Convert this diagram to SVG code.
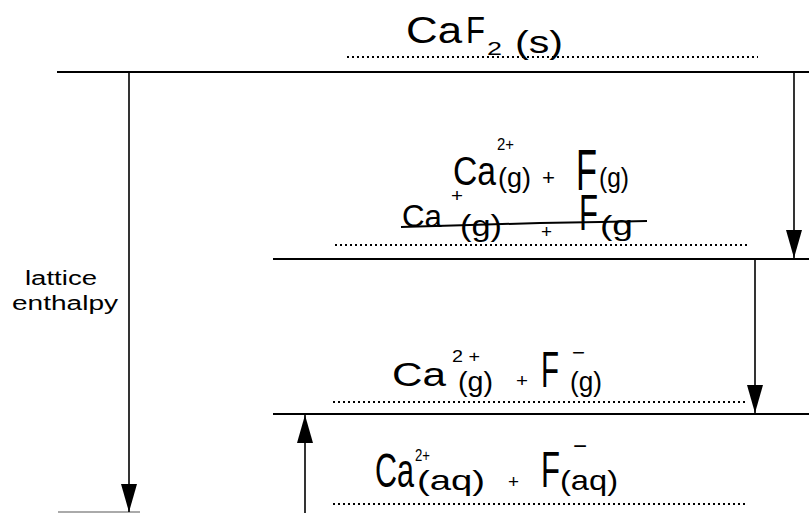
<svg xmlns="http://www.w3.org/2000/svg" width="809" height="513" viewBox="0 0 809 513">
<style>
.lvl{stroke:#000;stroke-width:2;fill:none}
.dot{stroke:#000;stroke-width:2;stroke-dasharray:2 3;fill:none}
.arr{stroke:#000;stroke-width:1.6;fill:none;marker-end:url(#ah)}
text.hw{font-family:"Liberation Sans","DejaVu Sans",sans-serif;fill:#000}
.lab{font-family:"Liberation Sans",Arial,sans-serif;font-size:20px;fill:#000}
</style>
<defs>
<marker id="ah" viewBox="0 0 28 16" refX="28" refY="8" markerWidth="28" markerHeight="16" markerUnits="userSpaceOnUse" orient="auto">
<path d="M0,0 L28,8 L0,16 z" fill="#000"/>
</marker>
</defs>
<rect width="809" height="513" fill="#fff"/>

<g id="level-caf2">
<line class="lvl" x1="57" y1="72" x2="809" y2="72"/>
<line class="dot" x1="347" y1="57" x2="758" y2="57"/>
<text class="hw" x="406" y="43" font-size="36" textLength="56" lengthAdjust="spacingAndGlyphs">Ca</text>
<text class="hw" x="466" y="43" font-size="36" textLength="19" lengthAdjust="spacingAndGlyphs">F</text>
<text class="hw" x="487" y="55" font-size="18" textLength="15" lengthAdjust="spacingAndGlyphs">2</text>
<text class="hw" x="515" y="53" font-size="32" textLength="48" lengthAdjust="spacingAndGlyphs">(s)</text>
</g>

<g id="level-gas-atoms">
<line class="lvl" x1="273" y1="259" x2="809" y2="259"/>
<line class="dot" x1="335" y1="245" x2="747" y2="245"/>
<text class="hw" x="453" y="185" font-size="40" textLength="43" lengthAdjust="spacingAndGlyphs">Ca</text>
<text class="hw" x="497" y="150" font-size="16" textLength="17" lengthAdjust="spacingAndGlyphs">2+</text>
<text class="hw" x="498" y="187" font-size="28" textLength="33" lengthAdjust="spacingAndGlyphs">(g)</text>
<text class="hw" x="542" y="185" font-size="22" textLength="13" lengthAdjust="spacingAndGlyphs">+</text>
<text class="hw" x="576" y="190" font-size="58" textLength="21" lengthAdjust="spacingAndGlyphs">F</text>
<text class="hw" x="599" y="187" font-size="28" textLength="30" lengthAdjust="spacingAndGlyphs">(g)</text>

<text class="hw" x="402" y="227" font-size="31" textLength="40" lengthAdjust="spacingAndGlyphs">Ca</text>
<text class="hw" x="451" y="202" font-size="18" textLength="12" lengthAdjust="spacingAndGlyphs">+</text>
<text class="hw" x="460" y="236" font-size="30" textLength="42" lengthAdjust="spacingAndGlyphs">(g)</text>
<text class="hw" x="541" y="238" font-size="18" textLength="11" lengthAdjust="spacingAndGlyphs">+</text>
<text class="hw" x="579" y="230" font-size="50" textLength="19" lengthAdjust="spacingAndGlyphs">F</text>
<text class="hw" x="600" y="235" font-size="28" textLength="33" lengthAdjust="spacingAndGlyphs">(g</text>
<polyline points="401,227 470,225 540,223 600,222 647,221" stroke="#000" stroke-width="2" fill="none"/>
</g>

<g id="level-gas-ions">
<line class="lvl" x1="273" y1="414" x2="809" y2="414"/>
<line class="dot" x1="333" y1="402" x2="745" y2="402"/>
<text class="hw" x="392" y="386" font-size="34" textLength="54" lengthAdjust="spacingAndGlyphs">Ca</text>
<text class="hw" x="452" y="362" font-size="17" textLength="28" lengthAdjust="spacingAndGlyphs">2 +</text>
<text class="hw" x="458" y="391" font-size="28" textLength="35" lengthAdjust="spacingAndGlyphs">(g)</text>
<text class="hw" x="516" y="387" font-size="18" textLength="12" lengthAdjust="spacingAndGlyphs">+</text>
<text class="hw" x="541" y="387" font-size="50" textLength="18" lengthAdjust="spacingAndGlyphs">F</text>
<text class="hw" x="572" y="360" font-size="22" textLength="13" lengthAdjust="spacingAndGlyphs">−</text>
<text class="hw" x="570" y="391" font-size="28" textLength="32" lengthAdjust="spacingAndGlyphs">(g)</text>
</g>

<g id="level-aqueous">
<line class="dot" x1="333" y1="504" x2="745" y2="504"/>
<text class="hw" x="375" y="487" font-size="48" textLength="39" lengthAdjust="spacingAndGlyphs">Ca</text>
<text class="hw" x="415" y="461" font-size="17" textLength="15" lengthAdjust="spacingAndGlyphs">2+</text>
<text class="hw" x="417" y="490" font-size="28" textLength="68" lengthAdjust="spacingAndGlyphs">(aq)</text>
<text class="hw" x="508" y="488" font-size="18" textLength="11" lengthAdjust="spacingAndGlyphs">+</text>
<text class="hw" x="541" y="487" font-size="50" textLength="19" lengthAdjust="spacingAndGlyphs">F</text>
<text class="hw" x="573" y="454" font-size="24" textLength="14" lengthAdjust="spacingAndGlyphs">−</text>
<text class="hw" x="560" y="490" font-size="28" textLength="58" lengthAdjust="spacingAndGlyphs">(aq)</text>
</g>

<g id="label-lattice">
<text class="lab" x="25" y="285" textLength="72" lengthAdjust="spacingAndGlyphs">lattice</text>
<text class="lab" x="12" y="310" textLength="106" lengthAdjust="spacingAndGlyphs">enthalpy</text>
<line x1="58" y1="512" x2="140" y2="512" stroke="#aaa" stroke-width="2"/>
</g>

<g id="connectors">
<line class="arr" x1="129" y1="72" x2="129" y2="512"/>
<line class="arr" x1="794" y1="72" x2="794" y2="258"/>
<line class="arr" x1="755" y1="259" x2="755" y2="413"/>
<line class="arr" x1="305" y1="513" x2="305" y2="415"/>
</g>
</svg>
